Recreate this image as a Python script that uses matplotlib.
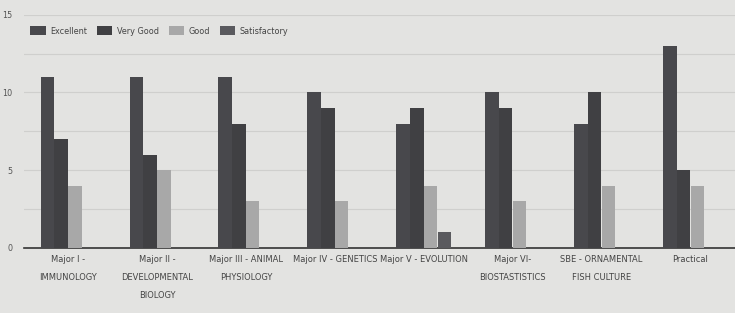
import matplotlib
matplotlib.use("Agg")
import matplotlib.pyplot as plt
from matplotlib import font_manager
import numpy as np

categories = ["Major I -\nIMMUNOLOGY", "Major II -\nDEVELOPMENTAL\nBIOLOGY",
              "Major III - ANIMAL\nPHYSIOLOGY", "Major IV - GENETICS",
              "Major V - EVOLUTION", "Major VI-\nBIOSTASTISTICS",
              "SBE - ORNAMENTAL\nFISH CULTURE", "Practical"]
excellent = [11, 11, 11, 10, 8, 10, 8, 13]
very_good = [7, 6, 8, 9, 9, 9, 10, 5]
good = [4, 5, 3, 3, 4, 3, 4, 4]
satisfactory = [0, 0, 0, 0, 1, 0, 0, 0]
series_names = ["Excellent", "Very Good", "Good", "Satisfactory"]
y_ticks = [0, 5, 10, 15]

names = {f.name for f in font_manager.fontManager.ttflist}
fam = 'Liberation Sans Narrow' if 'Liberation Sans Narrow' in names else 'DejaVu Sans'
plt.rcParams['font.family'] = [fam, 'DejaVu Sans']
plt.rcParams['font.stretch'] = 'condensed'

bg = "#e3e3e1"
fig = plt.figure(figsize=(7.35, 3.13), dpi=100, facecolor=bg)
ax = fig.add_axes([0.032, 0.208, 0.968, 0.745])
ax.set_facecolor(bg)

colors = ["#48484c", "#404043", "#a8a8a8", "#5a5a5e"]
series = [excellent, very_good, good, satisfactory]
x = np.arange(len(categories))
w = 0.155
for i, (vals, name, c) in enumerate(zip(series, series_names, colors)):
    ax.bar(x + (i - 1.5) * w, vals, width=w * 0.97, color=c, label=name, zorder=3)

ax.set_xlim(-0.5, 7.5)
ax.set_ylim(0, 15)
ax.set_yticks(y_ticks)
ax.set_yticks(np.arange(0, 15.1, 2.5), minor=True)
ax.tick_params(axis='y', which='both', length=0, labelsize=6.5, colors="#555555", pad=8)
ax.grid(axis='y', which='both', color="#cfcfcd", linewidth=0.8, zorder=0)
ax.set_xticks(x)
ax.set_xticklabels(categories, fontsize=6.7, color="#444444", linespacing=2.3)
ax.tick_params(axis='x', length=0, pad=5)
for s in ["left", "right", "top"]:
    ax.spines[s].set_visible(False)
ax.spines["bottom"].set_color("#333333")
ax.spines["bottom"].set_linewidth(1.2)

leg = ax.legend(loc="upper left", ncol=4, frameon=False, fontsize=6.5,
                bbox_to_anchor=(-0.002, 0.985), handlelength=1.7, handleheight=1.1,
                columnspacing=1.1, handletextpad=0.5, labelcolor="#444444")

fig.savefig("out.png", dpi=100, facecolor=bg)
